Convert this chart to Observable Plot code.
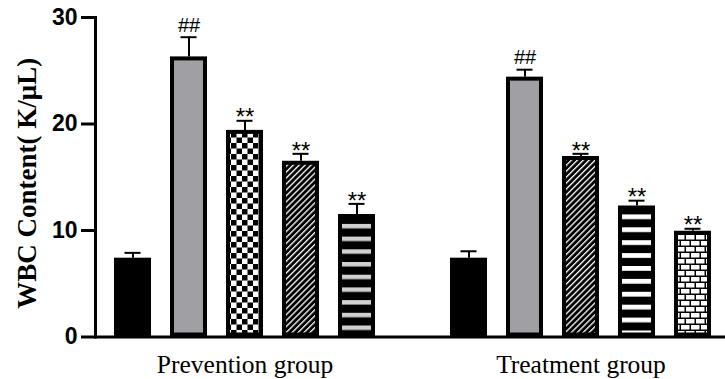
<!DOCTYPE html>
<html><head><meta charset="utf-8">
<script src="https://cdn.jsdelivr.net/npm/d3@7"></script>
<script src="https://cdn.jsdelivr.net/npm/@observablehq/plot@0.6"></script>
<style>body{margin:0;background:#fff}</style>
</head><body><div id="chart"></div>
<script>
const groups = ["Prevention group", "Treatment group"];
const categories = ["1", "2", "3", "4", "5"];
const preventionMean = [7.4, 26.3, 19.4, 16.5, 11.5];
const preventionSEM = [0.5, 1.85, 0.9, 0.7, 1.0];
const preventionSig = ["", "##", "**", "**", "**"];
const treatmentMean = [7.4, 24.4, 16.95, 12.3, 9.93];
const treatmentSEM = [0.65, 0.7, 0.25, 0.5, 0.23];
const treatmentSig = ["", "##", "**", "**", "**"];
const yTicks = [0, 10, 20, 30];
const yTitle = "WBC Content(\u00a0K/μL)";

// styles (kept apart from data)
const fills = {
  "Prevention group": ["#000", "#a0a0a4", "url(#checker)", "url(#diag)", "url(#hgray)"],
  "Treatment group": ["#000", "#a0a0a4", "url(#diag)", "url(#hwhite)", "url(#brick)"]
};

const series = {
  "Prevention group": {mean: preventionMean, sem: preventionSEM, sig: preventionSig},
  "Treatment group": {mean: treatmentMean, sem: treatmentSEM, sig: treatmentSig}
};
const rows = groups.flatMap(g => categories.map((c, i) => ({
  group: g, key: g + "|" + c, mean: series[g].mean[i], sem: series[g].sem[i],
  top: series[g].mean[i] + series[g].sem[i], sig: series[g].sig[i], fill: fills[g][i]
})));
const xDomain = [
  ...rows.filter(d => d.group === groups[0]).map(d => d.key),
  "gap",
  ...rows.filter(d => d.group === groups[1]).map(d => d.key)
];

const sans = "'Liberation Sans', Arial, sans-serif";
const serif = "'Liberation Serif', 'Times New Roman', serif";

const chart = Plot.plot({
  width: 725, height: 379,
  marginLeft: 95, marginRight: 0, marginTop: 17, marginBottom: 42.5,
  style: {background: "#fff", color: "#000"},
  x: {domain: xDomain, paddingInner: 0.3416, paddingOuter: 0.2758, align: 0.58, axis: null},
  y: {domain: [0, 30], axis: null},
  color: {type: "identity"},
  marks: [
    Plot.barY(rows, {x: "key", y: "mean", fill: "fill", stroke: "#000", strokeWidth: 4, inset: 2}),
    Plot.ruleX(rows, {x: "key", y1: "mean", y2: "top", stroke: "#000", strokeWidth: 2}),
    Plot.tickY(rows, {x: "key", y: "top", stroke: "#000", strokeWidth: 2, insetLeft: 10.5, insetRight: 10.5}),
    Plot.ruleY([0], {stroke: "#000", strokeWidth: 3}),
    Plot.frame({anchor: "left", stroke: "#000", strokeWidth: 3}),
    Plot.axisY({ticks: yTicks, tickSize: 14, tickPadding: 4, strokeWidth: 3, fontSize: 23, fontWeight: "bold", fontFamily: sans, label: null}),
    Plot.axisX({ticks: groups.map(g => g + "|" + categories[2]), tickFormat: d => d.split("|")[0], tickSize: 0, tickPadding: 18, fontSize: 25.5, fontFamily: serif, label: null}),
    Plot.text(rows.filter(d => d.sig === "**"), {x: "key", y: "top", text: "sig", fontSize: 24, fontFamily: sans, dy: -3}),
    Plot.text(rows.filter(d => d.sig === "##"), {x: "key", y: "top", text: "sig", fontSize: 20, fontFamily: sans, dy: -12}),
    Plot.text([yTitle], {frameAnchor: "left", textAnchor: "middle", rotate: -90, dx: -68, dy: 6, fontSize: 27, fontWeight: "bold", fontFamily: serif})
  ]
});

const defs = document.createElementNS("http://www.w3.org/2000/svg", "defs");
defs.innerHTML = `
<pattern id="checker" patternUnits="userSpaceOnUse" width="11" height="11">
  <rect width="11" height="11" fill="#fff"/><rect width="5.5" height="5.5" fill="#000"/><rect x="5.5" y="5.5" width="5.5" height="5.5" fill="#000"/>
</pattern>
<pattern id="diag" patternUnits="userSpaceOnUse" width="4.2" height="10" patternTransform="rotate(45)">
  <rect width="4.2" height="10" fill="#000"/><rect width="1.3" height="10" fill="#fff"/>
</pattern>
<pattern id="hgray" patternUnits="userSpaceOnUse" width="10" height="12.7" y="8">
  <rect width="10" height="12.7" fill="#000"/><rect width="10" height="4.5" fill="#d0d0d0"/>
</pattern>
<pattern id="hwhite" patternUnits="userSpaceOnUse" width="10" height="12.9" y="8">
  <rect width="10" height="12.9" fill="#000"/><rect width="10" height="4.8" fill="#fff"/>
</pattern>
<pattern id="brick" patternUnits="userSpaceOnUse" width="20" height="12">
  <rect width="20" height="12" fill="#000"/>
  <rect x="1" y="1" width="8.5" height="4.5" fill="#fff"/><rect x="11" y="1" width="8.5" height="4.5" fill="#fff"/>
  <rect x="0" y="7" width="4.5" height="4.5" fill="#fff"/><rect x="6" y="7" width="8.5" height="4.5" fill="#fff"/><rect x="16" y="7" width="4" height="4.5" fill="#fff"/>
</pattern>`;
chart.insertBefore(defs, chart.firstChild);
document.getElementById("chart").appendChild(chart);
</script>
</body></html>
